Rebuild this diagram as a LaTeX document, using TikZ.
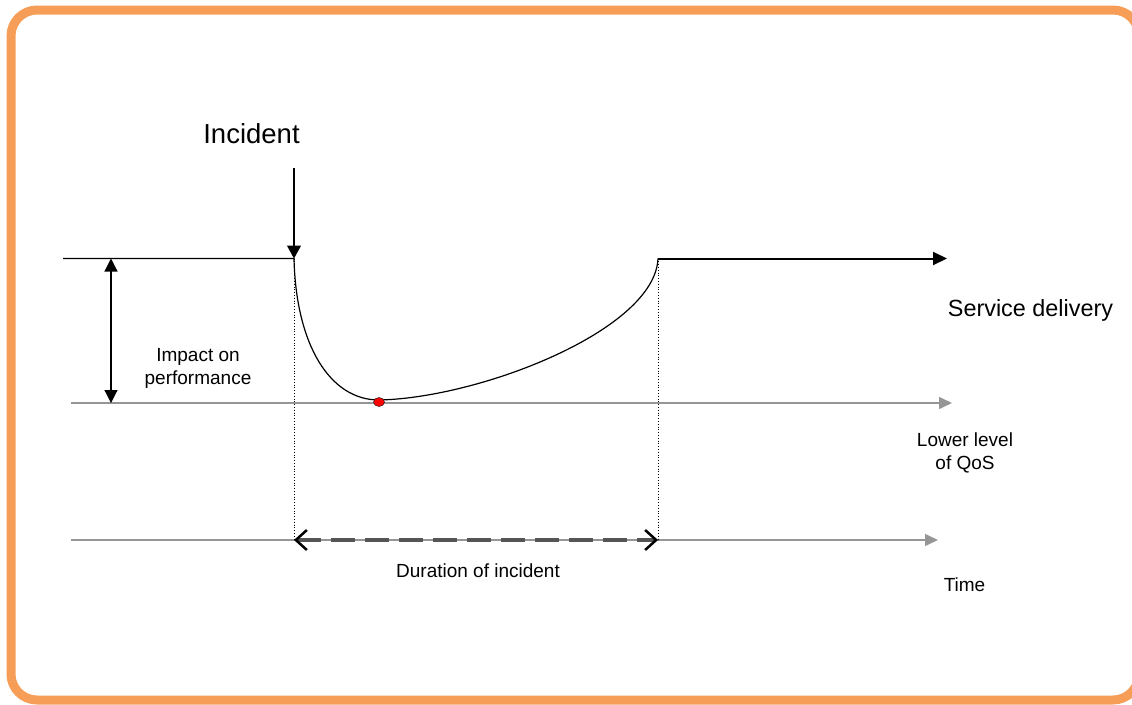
\documentclass[tikz,border=0pt]{standalone}
\usepackage{fontspec}
\setmainfont{Liberation Sans}
\usepackage{tikz}
\usetikzlibrary{arrows.meta,positioning,calc}
\usepackage{xcolor}
\definecolor{framecol}{RGB}{246,158,88}
\definecolor{axisgray}{RGB}{150,150,150}
\definecolor{dashgray}{RGB}{85,85,85}

\begin{document}
\begin{tikzpicture}[
  x=1pt, y=-1pt,
  every node/.style={inner sep=0pt, align=center},
  big/.style={font=\fontsize{27.5}{33}\selectfont},
  mid/.style={font=\fontsize{23.4}{28}\selectfont},
  small/.style={font=\fontsize{19}{23}\selectfont},
  axis/.style={draw=axisgray, line width=1.5pt, -{Triangle[length=13pt,width=12pt]}},
  guide/.style={dotted, line width=0.8pt},
  impactarrow/.style={line width=1.2pt, {Triangle[length=13pt,width=13pt]}-{Triangle[length=13pt,width=13pt]}}
]
\clip (0,0) rectangle (1132,704);
\draw[framecol, line width=9pt, rounded corners=26pt] (11,10) rectangle (1139,700);

% points of the service curve
\coordinate (start) at (63,258.5);
\coordinate (drop) at (294,258.5);
\coordinate (low) at (379,400);
\coordinate (recover) at (658,258.5);
\coordinate (out) at (947,258.5);
\coordinate (hit) at (294,168);
\coordinate (qos start) at (71,403);
\coordinate (qos end) at (952,403);
\coordinate (time start) at (71,540);
\coordinate (time end) at (938,540);
\coordinate (d1) at (294,540);
\coordinate (d2) at (658,540);
\coordinate (imp top) at (111,258.5);
\coordinate (imp bottom) at (111,403);

% axes
\draw[axis] (qos start) -- (qos end);
\draw[axis] (time start) -- (time end);

% curve
\draw[line width=1.2pt] (start) -- (drop)
  .. controls (296,345) and (330,400) .. (low)
  .. controls (480,398) and (655,330) .. (recover);
\draw[line width=2pt, -{Triangle[length=14pt,width=13pt]}] (recover) -- (out);
\draw[line width=1.2pt, -{Triangle[length=13pt,width=14pt]}] (hit) -- (drop);
\draw[impactarrow] (imp top) -- (imp bottom);

% incident span
\draw[guide] (drop) -- (d1);
\draw[guide] (recover) -- (d2);
\draw[dashgray, line width=4.5pt, dash pattern=on 24pt off 10pt,
  {Straight Barb[length=11pt,width=20pt,line width=2.5pt,color=black]}-{Straight Barb[length=11pt,width=20pt,line width=2.5pt,color=black]}]
  (d1) -- (d2);

\filldraw[fill=red, draw=black, line width=0.4pt] ($(low)+(0,2)$) ellipse (5.5pt and 4.5pt);

% labels
\node[big, anchor=base] (incident) at (251.5,143) {Incident};
\node[mid, anchor=base] (service) at (1030.5,316) {Service delivery};
\node[small] (impact) at (198,368) {Impact on\\performance};
\node[small] (qos) at (965,453) {Lower level\\of QoS};
\node[small, anchor=base] (time) at (964.5,591) {Time};
\node[small, anchor=base] (duration) at (478,577) {Duration of incident};
\end{tikzpicture}
\end{document}
